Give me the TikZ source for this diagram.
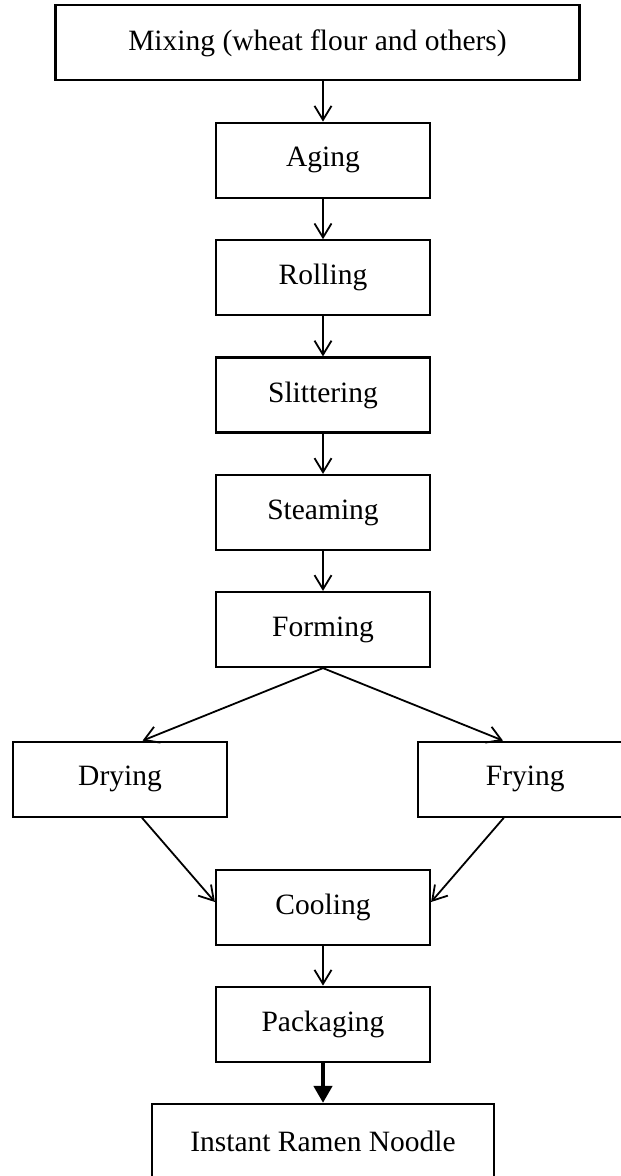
\documentclass[tikz,border=0pt]{standalone}
\usepackage{fontspec}
\setmainfont{Liberation Serif}
\usetikzlibrary{arrows.meta}
\begin{document}
\begin{tikzpicture}[x=1pt,y=-1pt,
 box/.style={draw, line width=2.2pt, minimum height=75pt, inner sep=0pt, font=\fontsize{29.5}{34}\selectfont},
 arr/.style={line width=1.8pt, -{Straight Barb[length=14pt,width=17pt,line width=1.8pt]}},
 bigarr/.style={line width=4.5pt, -{Triangle[length=17pt,width=18pt]}}]
\useasboundingbox (0,0) rectangle (621,1176);
\clip (0,0) rectangle (621,1176);
\node[box, minimum width=524pt] (mix) at (317.5,42.8) {Mixing (wheat flour and others)};
\node[box, minimum width=214pt] (aging) at (323,160.2) {Aging};
\node[box, minimum width=214pt] (roll) at (323,277.8) {Rolling};
\node[box, minimum width=214pt] (slit) at (323,395) {Slittering};
\node[box, minimum width=214pt] (steam) at (323,512.5) {Steaming};
\node[box, minimum width=214pt] (form) at (323,629.5) {Forming};
\node[box, minimum width=214pt] (dry) at (120,779.2) {Drying};
\node[box, minimum width=214pt] (fry) at (525.3,779.2) {Frying};
\node[box, minimum width=214pt] (cool) at (323,907.5) {Cooling};
\node[box, minimum width=214pt] (pack) at (323,1024.2) {Packaging};
\node[box, minimum width=342pt] (inst) at (323,1141.5) {Instant Ramen Noodle};
\draw[arr] (aging.north |- mix.south) -- (aging.north);
\draw[arr] (aging.south) -- (roll.north);
\draw[arr] (roll.south) -- (slit.north);
\draw[arr] (slit.south) -- (steam.north);
\draw[arr] (steam.south) -- (form.north);
\draw[arr] (form.south) -- ([xshift=22.6pt]dry.north);
\draw[arr] (form.south) -- ([xshift=-22.3pt]fry.north);
\draw[arr] ([xshift=22pt]dry.south) -- ([yshift=5.5pt]cool.west);
\draw[arr] ([xshift=-21.5pt]fry.south) -- ([yshift=5.5pt]cool.east);
\draw[arr] (cool.south) -- (pack.north);
\draw[bigarr] (pack.south) -- (inst.north);
\end{tikzpicture}
\end{document}
